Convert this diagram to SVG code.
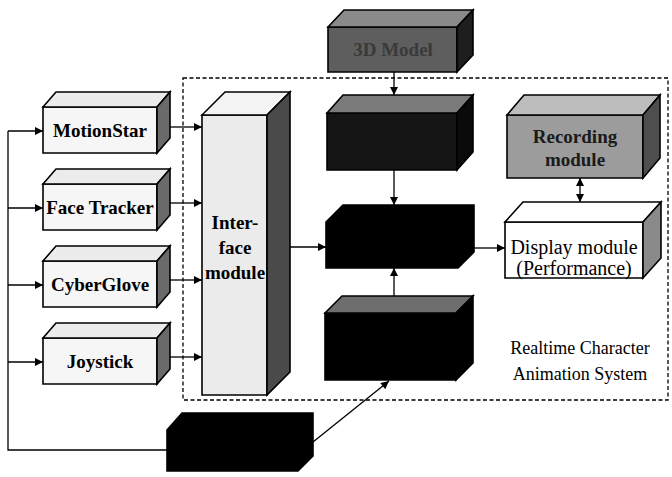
<svg xmlns="http://www.w3.org/2000/svg" width="672" height="477" viewBox="0 0 672 477">
<defs>
<marker id="ah" viewBox="0 0 10 10" refX="10" refY="5" markerWidth="10" markerHeight="8" markerUnits="userSpaceOnUse" orient="auto-start-reverse">
<path d="M0,0 L10,5 L0,10 Z" fill="#000"/>
</marker>
</defs>
<style>
.s{stroke:#000;stroke-width:1.6;stroke-linejoin:miter}
.lf{fill:#f6f6f6}
.lt{fill:#ececec}
.dr{fill:#6a6a6a}
.lbl{font-family:"Liberation Serif","Times New Roman",serif;font-size:19px;font-weight:bold;text-anchor:middle;fill:#000}
.reg{font-family:"Liberation Serif","Times New Roman",serif;font-size:20px;text-anchor:middle;fill:#000}
.c{fill:none;stroke:#000;stroke-width:1.3}
</style>
<rect width="672" height="477" fill="#fff"/>

<g id="system-boundary">
<rect x="183" y="78" width="485" height="322" fill="none" stroke="#000" stroke-width="1.3" stroke-dasharray="4,2.5"/>
</g>

<g id="motionstar">
<polygon class="s lf" points="43,107 157,107 157,153 43,153"/>
<polygon class="s lt" points="43,107 56,92 170,92 157,107"/>
<polygon class="s dr" points="157,107 170,92 170,138 157,153"/>
<text class="lbl" x="100" y="137">MotionStar</text>
</g>
<g id="face-tracker">
<polygon class="s lf" points="43,184 157,184 157,230 43,230"/>
<polygon class="s lt" points="43,184 56,169 170,169 157,184"/>
<polygon class="s dr" points="157,184 170,169 170,215 157,230"/>
<text class="lbl" x="100" y="214">Face Tracker</text>
</g>
<g id="cyberglove">
<polygon class="s lf" points="43,261 157,261 157,307 43,307"/>
<polygon class="s lt" points="43,261 56,246 170,246 157,261"/>
<polygon class="s dr" points="157,261 170,246 170,292 157,307"/>
<text class="lbl" x="100" y="291">CyberGlove</text>
</g>
<g id="joystick">
<polygon class="s lf" points="43,338 157,338 157,384 43,384"/>
<polygon class="s lt" points="43,338 56,323 170,323 157,338"/>
<polygon class="s dr" points="157,338 170,323 170,369 157,384"/>
<text class="lbl" x="100" y="368">Joystick</text>
</g>

<g id="interface-module">
<polygon class="s" fill="#ebebeb" points="202,115 267,115 267,395 202,395"/>
<polygon class="s" fill="#f3f3f3" points="202,115 225,92 290,92 267,115"/>
<polygon class="s" fill="#4a4a4a" points="267,115 290,92 290,372 267,395"/>
<text class="lbl" x="235" y="229">Inter-</text>
<text class="lbl" x="235" y="254">face</text>
<text class="lbl" x="235" y="279">module</text>
</g>

<g id="model-3d">
<polygon class="s" fill="#5e5e5e" points="328,27 457,27 457,72 328,72"/>
<polygon class="s" fill="#8a8a8a" points="328,27 344,10 473,10 457,27"/>
<polygon class="s" fill="#1e1e1e" points="457,27 473,10 473,55 457,72"/>
<text class="lbl" x="393" y="56" fill="#3a3a3a" style="fill:#3a3a3a">3D Model</text>
</g>

<g id="upper-module">
<polygon class="s" fill="#141414" points="327,113 457,113 457,170 327,170"/>
<polygon class="s" fill="#7a7a7a" points="327,113 343,95 473,95 457,113"/>
<polygon class="s" fill="#0a0a0a" points="457,113 473,95 473,152 457,170"/>
</g>

<g id="center-module">
<polygon class="s" fill="#000" points="326,222 343,205 474,205 474,252 458,268 326,268"/>
</g>

<g id="lower-module">
<polygon class="s" fill="#000" points="325,313 456,313 456,380 325,380"/>
<polygon class="s" fill="#6e6e6e" points="325,313 342,296 473,296 456,313"/>
<polygon class="s" fill="#000" points="456,313 473,296 473,363 456,380"/>
</g>

<g id="source-module">
<polygon class="s" fill="#000" points="167,430 182,413 313,413 313,456 298,471 167,471"/>
</g>

<g id="recording-module">
<polygon class="s" fill="#9c9c9c" points="507,115 643,115 643,178 507,178"/>
<polygon class="s" fill="#bdbdbd" points="507,115 524,95 660,95 643,115"/>
<polygon class="s" fill="#4e4e4e" points="643,115 660,95 660,158 643,178"/>
<text class="lbl" x="575" y="143" style="fill:#1a1a1a">Recording</text>
<text class="lbl" x="575" y="166" style="fill:#1a1a1a">module</text>
</g>

<g id="display-module">
<polygon class="s" fill="#fff" points="505,222 643,222 643,278 505,278"/>
<polygon class="s" fill="#fff" points="505,222 523,202 661,202 643,222"/>
<polygon class="s" fill="#8a8a8a" points="643,222 661,202 661,258 643,278"/>
<text class="reg" x="574" y="254">Display module</text>
<text class="reg" x="574" y="275">(Performance)</text>
</g>

<g id="caption">
<text class="reg" x="580" y="354" style="font-size:18px">Realtime Character</text>
<text class="reg" x="580" y="380" style="font-size:18px">Animation System</text>
</g>

<g id="connectors">
<polyline class="c" points="167,450 8,450 8,131"/>
<line class="c" x1="8" y1="131" x2="43" y2="131" marker-end="url(#ah)"/>
<line class="c" x1="8" y1="208" x2="43" y2="208" marker-end="url(#ah)"/>
<line class="c" x1="8" y1="285" x2="43" y2="285" marker-end="url(#ah)"/>
<line class="c" x1="8" y1="362" x2="43" y2="362" marker-end="url(#ah)"/>
<line class="c" x1="170" y1="127" x2="202" y2="127" marker-end="url(#ah)"/>
<line class="c" x1="170" y1="203" x2="202" y2="203" marker-end="url(#ah)"/>
<line class="c" x1="170" y1="280" x2="202" y2="280" marker-end="url(#ah)"/>
<line class="c" x1="170" y1="357" x2="202" y2="357" marker-end="url(#ah)"/>
<line class="c" x1="290" y1="247" x2="326" y2="247" marker-end="url(#ah)"/>
<line class="c" x1="394" y1="72" x2="394" y2="95" marker-end="url(#ah)"/>
<line class="c" x1="394" y1="170" x2="394" y2="205" marker-end="url(#ah)"/>
<line class="c" x1="394" y1="296" x2="394" y2="268" marker-end="url(#ah)"/>
<line class="c" x1="474" y1="248" x2="505" y2="248" marker-end="url(#ah)"/>
<line class="c" x1="313" y1="442" x2="389" y2="381" marker-end="url(#ah)"/>
<line class="c" x1="580" y1="178" x2="580" y2="202" marker-start="url(#ah)" marker-end="url(#ah)"/>
</g>
</svg>
